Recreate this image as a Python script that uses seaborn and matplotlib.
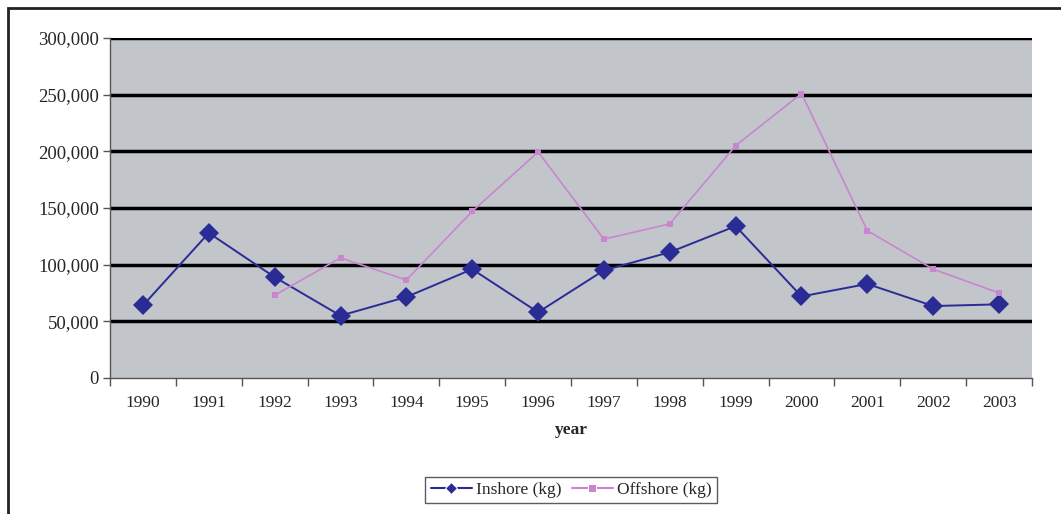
import numpy as np
import pandas as pd
import matplotlib
matplotlib.use("Agg")
import matplotlib.pyplot as plt
import seaborn as sns
from matplotlib.ticker import FuncFormatter, FixedLocator

# values (kg)
years = [1990, 1991, 1992, 1993, 1994, 1995, 1996, 1997, 1998, 1999, 2000, 2001, 2002, 2003]
inshore = [64000, 128000, 89000, 55000, 71500, 96000, 58000, 95000, 111000, 134000, 72000, 83000, 63500, 65000]
offshore_years = [1992, 1993, 1994, 1995, 1996, 1997, 1998, 1999, 2000, 2001, 2002, 2003]
offshore = [73000, 106000, 86500, 147000, 199500, 122500, 136000, 205000, 251000, 130000, 96000, 75000]

yticks = [0, 50000, 100000, 150000, 200000, 250000, 300000]

pos = {y: i for i, y in enumerate(years)}
df = pd.concat([
    pd.DataFrame({'pos': [pos[y] for y in years], 'kg': inshore, 'series': 'Inshore (kg)'}),
    pd.DataFrame({'pos': [pos[y] for y in offshore_years], 'kg': offshore, 'series': 'Offshore (kg)'}),
])

sns.set_style("white")
plt.rcParams['font.family'] = ['Liberation Serif', 'DejaVu Serif']

fig = plt.figure(figsize=(10.61, 5.14), dpi=100)
ax = fig.add_axes([110 / 1061, 1 - 378 / 514, 922 / 1061, 340 / 514])

# outer frame
fig.patches.append(plt.Rectangle((8 / 1061, -0.05), 1.1, (514 - 8) / 514 + 0.05,
                                 transform=fig.transFigure, fill=False,
                                 edgecolor='#222222', linewidth=2))

ax.set_facecolor('#c2c6cb')
for t in yticks[1:]:
    ax.axhline(t, color='black', linewidth=2.5, zorder=1)

palette = {'Inshore (kg)': '#2b2b96', 'Offshore (kg)': '#c985cf'}
sns.lineplot(data=df, x='pos', y='kg', hue='series', style='series',
             palette=palette, markers={'Inshore (kg)': 'D', 'Offshore (kg)': 's'},
             dashes=False, ax=ax, zorder=3)
for line, name in zip([l for l in ax.get_lines() if len(l.get_xdata()) > 2], ['Inshore (kg)', 'Offshore (kg)']):
    if name == 'Inshore (kg)':
        line.set_markersize(10)
        line.set_linewidth(1.4)
    else:
        line.set_markersize(5)
        line.set_linewidth(1.2)
    line.set_markeredgewidth(0)

ax.set_xlim(-0.5, len(years) - 0.5)
ax.set_ylim(0, 300000)
ax.set_yticks(yticks)
ax.yaxis.set_major_formatter(FuncFormatter(lambda v, p: f"{int(v):,}"))
ax.set_xticks(range(len(years)))
ax.set_xticklabels([str(y) for y in years])
ax.xaxis.set_minor_locator(FixedLocator(np.arange(-0.5, len(years), 1.0)))
ax.tick_params(axis='x', which='major', length=0, pad=12, labelsize=12.5)
ax.tick_params(axis='x', which='minor', length=6, width=1, color='#555555', direction='out', bottom=True)
ax.tick_params(axis='y', length=5, width=1, color='#555555', direction='out', left=True, labelsize=13.5, pad=3)

for s in ['top', 'right']:
    ax.spines[s].set_visible(False)
for s in ['left', 'bottom']:
    ax.spines[s].set_color('#555555')
    ax.spines[s].set_linewidth(1)

ax.set_xlabel('year', fontweight='bold', fontsize=12.5, labelpad=8)
ax.set_ylabel('')

handles, labels = ax.get_legend_handles_labels()
ax.legend(handles, labels, loc='upper center', bbox_to_anchor=(0.5, -0.265), ncol=2,
          frameon=True, fancybox=False, edgecolor='#333333', fontsize=12.5,
          handlelength=2.4, columnspacing=0.6, handletextpad=0.2, borderpad=0.3)
leg = ax.get_legend()
leg.get_frame().set_linewidth(1)

fig.savefig('out.png', dpi=100)
